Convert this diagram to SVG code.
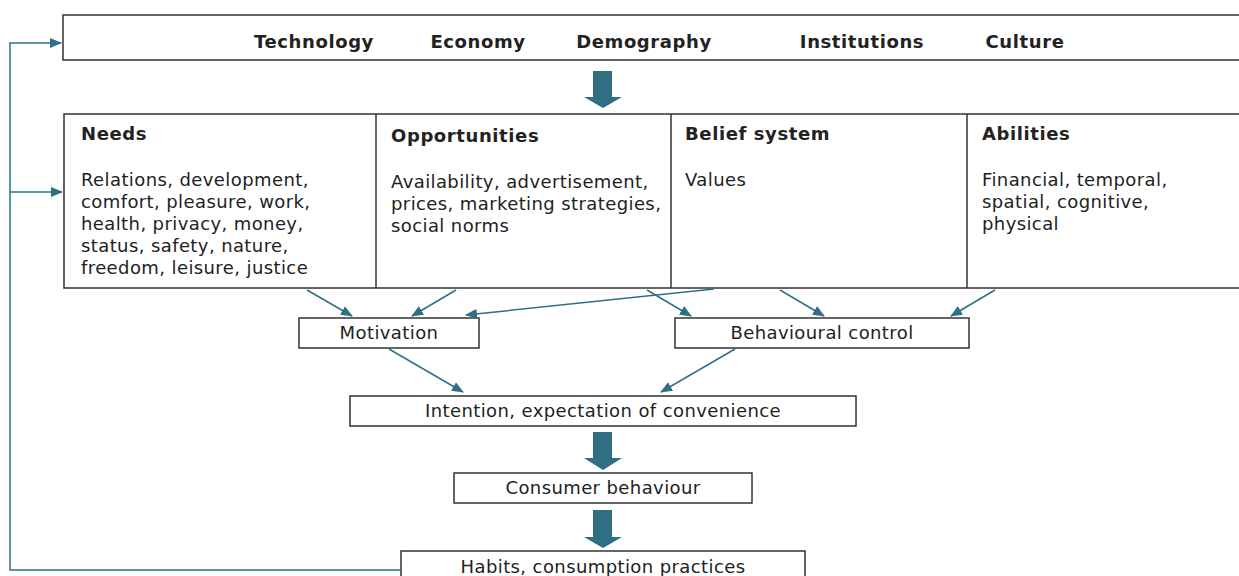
<svg xmlns="http://www.w3.org/2000/svg" width="1239" height="576" viewBox="0 0 1239 576">
<defs>
<style>
.box{fill:#fff;stroke:#333;stroke-width:1.5}
.t{font-family:"DejaVu Sans",Verdana,sans-serif;font-size:18px;letter-spacing:0.4px;fill:#222}
.b{font-weight:bold;letter-spacing:0.6px}
.c{text-anchor:middle}
.con{stroke:#2f7086;stroke-width:1.5;fill:none}
.big{fill:#306e82}
</style>
<marker id="ah" viewBox="0 0 12 10" refX="11" refY="5" markerWidth="12" markerHeight="10" markerUnits="userSpaceOnUse" orient="auto">
<path d="M0,0 L12,5 L0,10 Z" fill="#2f7086"/>
</marker>
</defs>
<rect width="1239" height="576" fill="#fff"/>

<g id="context">
<rect class="box" x="63" y="15" width="1180" height="45"/>
<text class="t b c" x="314" y="48">Technology</text>
<text class="t b c" x="478" y="48">Economy</text>
<text class="t b c" x="644" y="48">Demography</text>
<text class="t b c" x="862" y="48">Institutions</text>
<text class="t b c" x="1025" y="48">Culture</text>
</g>

<g id="factors">
<rect class="box" x="64" y="114" width="1180" height="174"/>
<line x1="376" y1="114" x2="376" y2="288" stroke="#333" stroke-width="1.5"/>
<line x1="671" y1="114" x2="671" y2="288" stroke="#333" stroke-width="1.5"/>
<line x1="967" y1="114" x2="967" y2="288" stroke="#333" stroke-width="1.5"/>
</g>
<g id="needs">
<text class="t b" x="81" y="140">Needs</text>
<text class="t" x="81" y="186">Relations, development,</text>
<text class="t" x="81" y="208">comfort, pleasure, work,</text>
<text class="t" x="81" y="230">health, privacy, money,</text>
<text class="t" x="81" y="252">status, safety, nature,</text>
<text class="t" x="81" y="274">freedom, leisure, justice</text>
</g>
<g id="opportunities">
<text class="t b" x="391" y="142">Opportunities</text>
<text class="t" x="391" y="188">Availability, advertisement,</text>
<text class="t" x="391" y="210">prices, marketing strategies,</text>
<text class="t" x="391" y="232">social norms</text>
</g>
<g id="belief">
<text class="t b" x="685" y="140">Belief system</text>
<text class="t" x="685" y="186">Values</text>
</g>
<g id="abilities">
<text class="t b" x="982" y="140">Abilities</text>
<text class="t" x="982" y="186">Financial, temporal,</text>
<text class="t" x="982" y="208">spatial, cognitive,</text>
<text class="t" x="982" y="230">physical</text>
</g>

<g id="motivation">
<rect class="box" x="299" y="318" width="180" height="30"/>
<text class="t c" x="389" y="339">Motivation</text>
</g>
<g id="control">
<rect class="box" x="675" y="318" width="294" height="30"/>
<text class="t c" x="822" y="339">Behavioural control</text>
</g>
<g id="intention">
<rect class="box" x="350" y="396" width="506" height="30"/>
<text class="t c" x="603" y="417">Intention, expectation of convenience</text>
</g>
<g id="behaviour">
<rect class="box" x="454" y="473" width="298" height="30"/>
<text class="t c" x="603" y="494">Consumer behaviour</text>
</g>
<g id="habits">
<rect class="box" x="401" y="551" width="404" height="35"/>
<text class="t c" x="603" y="573">Habits, consumption practices</text>
</g>

<g id="connectors">
<path class="big" d="M593,71 H612 V97 H622 L603,108 L584,97 H593 Z"/>
<path class="big" d="M593,432 H612 V458 H622 L603,470 L584,458 H593 Z"/>
<path class="big" d="M593,510 H612 V537 H622 L603,548 L584,537 H593 Z"/>
<line class="con" x1="307" y1="290" x2="352" y2="316" marker-end="url(#ah)"/>
<line class="con" x1="456" y1="290" x2="412" y2="316" marker-end="url(#ah)"/>
<line class="con" x1="714" y1="289" x2="466" y2="315" marker-end="url(#ah)"/>
<line class="con" x1="647" y1="290" x2="691" y2="316" marker-end="url(#ah)"/>
<line class="con" x1="780" y1="290" x2="824" y2="316" marker-end="url(#ah)"/>
<line class="con" x1="995" y1="290" x2="951" y2="316" marker-end="url(#ah)"/>
<line class="con" x1="389" y1="349" x2="463" y2="392" marker-end="url(#ah)"/>
<line class="con" x1="735" y1="349" x2="661" y2="392" marker-end="url(#ah)"/>
<path class="con" d="M401,570 H10 V43 H61" marker-end="url(#ah)"/>
<path class="con" d="M10,192 H62" marker-end="url(#ah)"/>
</g>
</svg>
